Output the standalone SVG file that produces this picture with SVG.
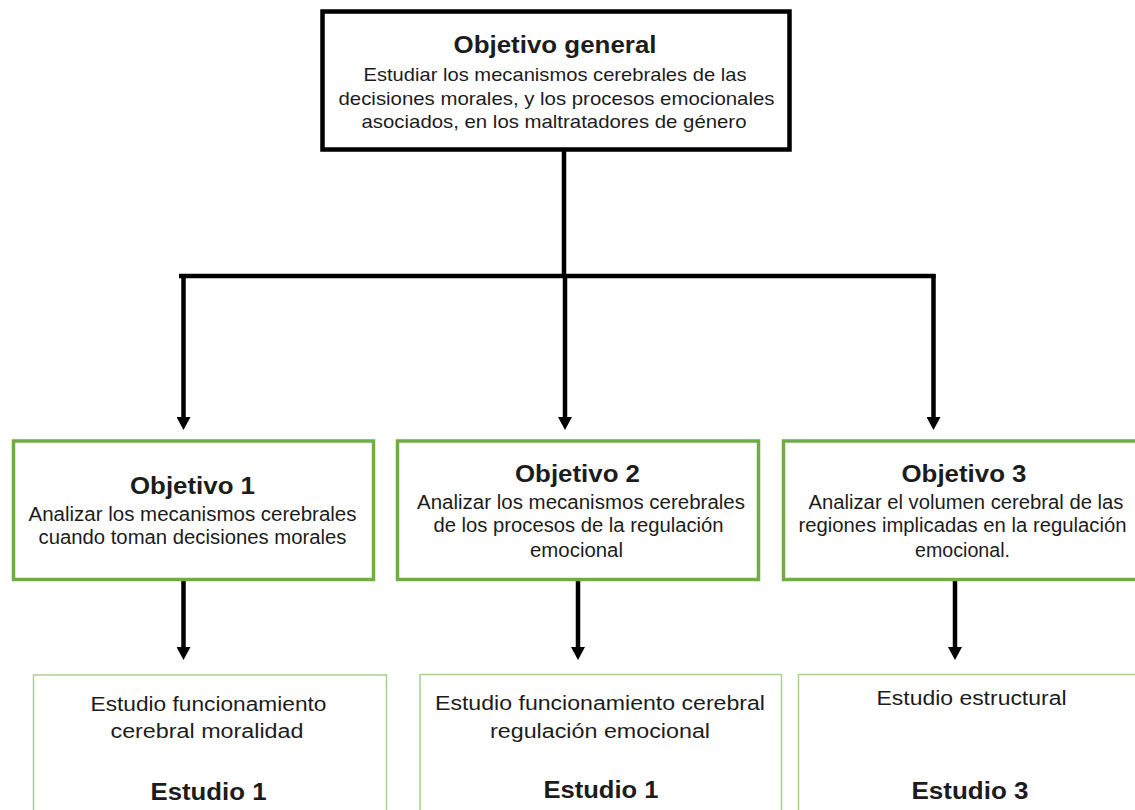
<svg xmlns="http://www.w3.org/2000/svg" width="1135" height="810" viewBox="0 0 1135 810">
<style>
  text { font-family: "Liberation Sans", Arial, sans-serif; fill: #1c1c1c; text-anchor: middle; }
  .t { font-weight: bold; font-size: 23px; }
  .b { font-size: 19.5px; }
  .g { font-size: 18.5px; }
  .main { fill: #ffffff; stroke: #000000; stroke-width: 4.5; }
  .obj { fill: #ffffff; stroke: #70AD47; stroke-width: 3.5; }
  .stu { fill: #ffffff; stroke: #A9D18E; stroke-width: 1.5; }
  .wire { fill: none; stroke: #000000; stroke-width: 4.5; }
</style>
<defs>
  <marker id="ah" markerUnits="userSpaceOnUse" viewBox="0 0 13 14" refX="0" refY="7" markerWidth="13" markerHeight="14" orient="auto">
    <path d="M0,0 L13,7 L0,14 z" fill="#000000"/>
  </marker>
</defs>
<rect width="1135" height="810" fill="#ffffff"/>

<g id="connectors">
  <line class="wire" x1="564" y1="150" x2="564" y2="276"/>
  <line class="wire" x1="179" y1="276" x2="935.5" y2="276"/>
  <line class="wire" x1="183.5" y1="274" x2="183.5" y2="417" marker-end="url(#ah)"/>
  <line class="wire" x1="565" y1="274" x2="565" y2="417" marker-end="url(#ah)"/>
  <line class="wire" x1="933.5" y1="274" x2="933.5" y2="417" marker-end="url(#ah)"/>
  <line class="wire" x1="183.5" y1="581" x2="183.5" y2="647" marker-end="url(#ah)"/>
  <line class="wire" x1="578" y1="581" x2="578" y2="647" marker-end="url(#ah)"/>
  <line class="wire" x1="955" y1="581" x2="955" y2="647" marker-end="url(#ah)"/>
</g>

<g id="objetivo-general">
  <rect class="main" x="322.5" y="11.5" width="467" height="138"/>
  <text class="t" x="555" y="53" textLength="203" lengthAdjust="spacingAndGlyphs">Objetivo general</text>
  <text class="g" x="555" y="81" textLength="383" lengthAdjust="spacingAndGlyphs">Estudiar los mecanismos cerebrales de las</text>
  <text class="g" x="556.5" y="104.5" textLength="436" lengthAdjust="spacingAndGlyphs">decisiones morales, y los procesos emocionales</text>
  <text class="g" x="554" y="128" textLength="385" lengthAdjust="spacingAndGlyphs">asociados, en los maltratadores de género</text>
</g>

<g id="objetivo-1">
  <rect class="obj" x="13.5" y="441" width="360" height="138.5"/>
  <text class="t" x="192.5" y="493.5" textLength="125" lengthAdjust="spacingAndGlyphs">Objetivo 1</text>
  <text class="b" x="192.5" y="520.5" textLength="328" lengthAdjust="spacingAndGlyphs">Analizar los mecanismos cerebrales</text>
  <text class="b" x="192.5" y="543.5" textLength="308" lengthAdjust="spacingAndGlyphs">cuando toman decisiones morales</text>
</g>

<g id="objetivo-2">
  <rect class="obj" x="397.5" y="441" width="361" height="138.5"/>
  <text class="t" x="577.5" y="481.5" textLength="125" lengthAdjust="spacingAndGlyphs">Objetivo 2</text>
  <text class="b" x="581" y="508.5" textLength="328" lengthAdjust="spacingAndGlyphs">Analizar los mecanismos cerebrales</text>
  <text class="b" x="578.5" y="531.5" textLength="290" lengthAdjust="spacingAndGlyphs">de los procesos de la regulación</text>
  <text class="b" x="576.5" y="557" textLength="93" lengthAdjust="spacingAndGlyphs">emocional</text>
</g>

<g id="objetivo-3">
  <rect class="obj" x="783.5" y="441" width="400" height="138.5"/>
  <text class="t" x="964" y="481.5" textLength="125" lengthAdjust="spacingAndGlyphs">Objetivo 3</text>
  <text class="b" x="966" y="508.5" textLength="315" lengthAdjust="spacingAndGlyphs">Analizar el volumen cerebral de las</text>
  <text class="b" x="962.5" y="531.5" textLength="328" lengthAdjust="spacingAndGlyphs">regiones implicadas en la regulación</text>
  <text class="b" x="962.5" y="557" textLength="95" lengthAdjust="spacingAndGlyphs">emocional.</text>
</g>

<g id="estudio-1a">
  <rect class="stu" x="33.5" y="675" width="353" height="150"/>
  <text class="b" x="208.5" y="710.5" textLength="236" lengthAdjust="spacingAndGlyphs">Estudio funcionamiento</text>
  <text class="b" x="207" y="738" textLength="193" lengthAdjust="spacingAndGlyphs">cerebral moralidad</text>
  <text class="t" x="208.5" y="799.5" textLength="116" lengthAdjust="spacingAndGlyphs">Estudio 1</text>
</g>

<g id="estudio-1b">
  <rect class="stu" x="420" y="674.5" width="361.5" height="150"/>
  <text class="b" x="600" y="710" textLength="330" lengthAdjust="spacingAndGlyphs">Estudio funcionamiento cerebral</text>
  <text class="b" x="600" y="738" textLength="220" lengthAdjust="spacingAndGlyphs">regulación emocional</text>
  <text class="t" x="601" y="797.5" textLength="115" lengthAdjust="spacingAndGlyphs">Estudio 1</text>
</g>

<g id="estudio-3">
  <rect class="stu" x="798.5" y="674.5" width="400" height="150"/>
  <text class="b" x="971.5" y="705" textLength="190" lengthAdjust="spacingAndGlyphs">Estudio estructural</text>
  <text class="t" x="970" y="798.5" textLength="117" lengthAdjust="spacingAndGlyphs">Estudio 3</text>
</g>
</svg>
